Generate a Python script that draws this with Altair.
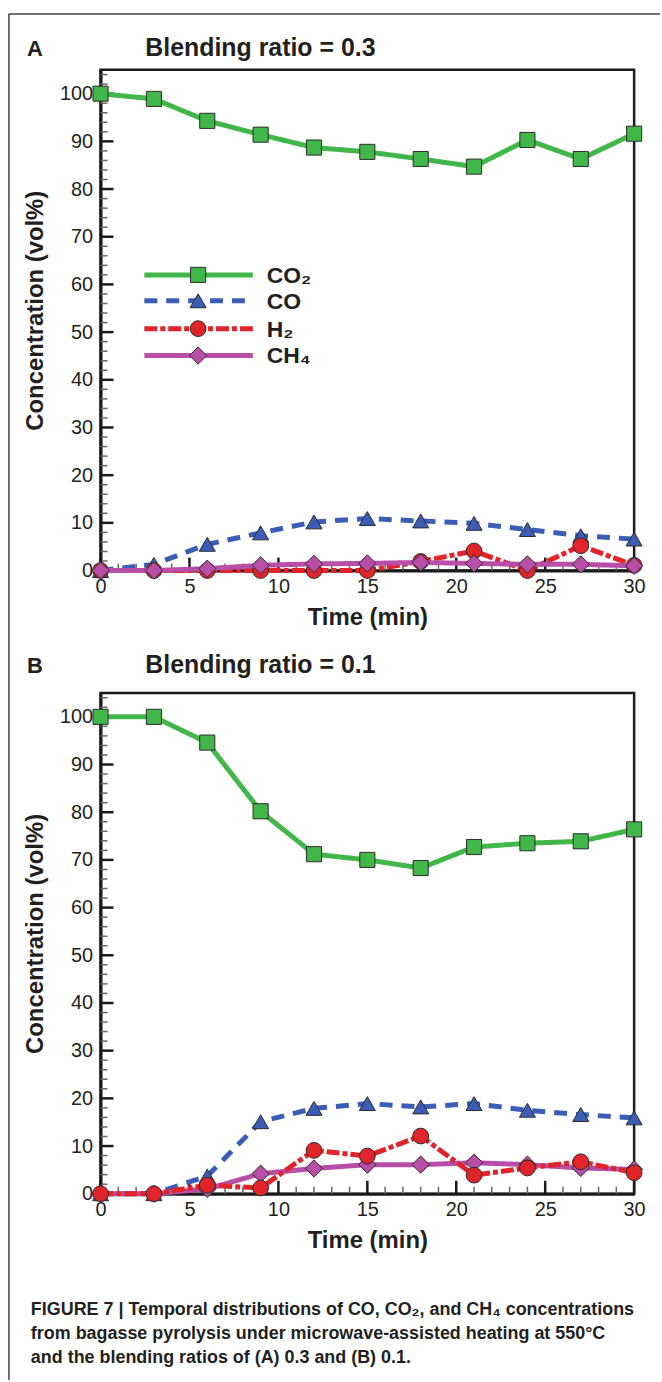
import altair as alt
import pandas as pd

# Sampling times (min)
time = [0, 3, 6, 9, 12, 15, 18, 21, 24, 27, 30]

# Blending ratio = 0.3
a_co2 = [100, 98.9, 94.3, 91.4, 88.7, 87.8, 86.3, 84.7, 90.3, 86.3, 91.6]
a_co = [0, 1.3, 5.5, 7.9, 10.2, 10.9, 10.4, 9.9, 8.6, 7.3, 6.6]
a_h2 = [0, 0, 0, 0, 0, 0, 1.9, 4.1, 0, 5.2, 1.1]
a_ch4 = [0, 0, 0.4, 1.1, 1.4, 1.5, 1.7, 1.5, 1.3, 1.3, 1.0]

# Blending ratio = 0.1
b_co2 = [100, 100, 94.6, 80.2, 71.2, 70.0, 68.3, 72.7, 73.5, 73.9, 76.4]
b_co = [0, 0, 3.7, 15.1, 17.9, 18.9, 18.2, 18.9, 17.5, 16.6, 15.9]
b_h2 = [0, 0, 1.8, 1.2, 9.1, 7.9, 12.1, 3.9, 5.4, 6.7, 4.4]
b_ch4 = [0, 0, 1.0, 4.2, 5.3, 6.1, 6.1, 6.5, 6.1, 5.4, 5.1]

gases = ["CO2", "CO", "H2", "CH4"]
gas_labels = ["CO₂", "CO", "H₂", "CH₄"]

# Axis tick values
x_major = [0, 5, 10, 15, 20, 25, 30]
x_minor = [v for v in range(0, 31) if v % 5 != 0]
y_major = list(range(0, 101, 10))
y_minor = [v for v in range(2, 105, 2) if v % 10 != 0]

caption_lines = [
    "FIGURE 7 | Temporal distributions of CO, CO₂, and CH₄ concentrations",
    "from bagasse pyrolysis under microwave-assisted heating at 550°C",
    "and the blending ratios of (A) 0.3 and (B) 0.1.",
]

STYLE = {
    "CO2": dict(color="#41b649", dash=[1, 0], shape="square", size=230),
    "CO": dict(color="#3b5db5", dash=[13, 9], shape="triangle-up", size=260),
    "H2": dict(color="#e0242a", dash=[13, 3, 5, 3], shape="circle", size=250),
    "CH4": dict(color="#b84ea7", dash=[1, 0], shape="diamond", size=300),
}

FONT = "Liberation Sans"
W, H = 536, 503
X_DOMAIN = [0, 30]
Y_DOMAIN = [0, 105]
MAJOR_LEN, MINOR_LEN = 13, 7

xs = alt.Scale(domain=X_DOMAIN, nice=False, zero=False)
ys = alt.Scale(domain=Y_DOMAIN, nice=False)

x_axis = alt.Axis(
    title="Time (min)", values=x_major, ticks=False, grid=False,
    domainWidth=3, domainColor="#1a1a1a", labelFont=FONT, labelFontSize=20,
    labelColor="#231f20", labelPadding=6, labelFlush=False,
    titleFont=FONT, titleFontSize=24, titleFontWeight="bold",
    titleColor="#231f20", titlePadding=9,
)
y_axis = alt.Axis(
    title="Concentration (vol%)", values=y_major, ticks=False, grid=False,
    domainWidth=3, domainColor="#1a1a1a", labelFont=FONT, labelFontSize=20,
    labelColor="#231f20", labelPadding=8, labelFlush=False,
    titleFont=FONT, titleFontSize=24, titleFontWeight="bold",
    titleColor="#231f20", titleX=-65, titleY=H / 2 - 10, titleBaseline="middle",
)


def X(field):
    return alt.X(f"{field}:Q", scale=xs, axis=x_axis)


def Y(field):
    return alt.Y(f"{field}:Q", scale=ys, axis=y_axis)


one = pd.DataFrame({"k": [0]})

# one pixel expressed in data units of each axis
PX_X = (X_DOMAIN[1] - X_DOMAIN[0]) / W
PX_Y = (Y_DOMAIN[1] - Y_DOMAIN[0]) / H


def tick_frame(values, length, axis):
    # two end points per tick, starting on the axis and pointing into the plot
    rows = []
    for i, v in enumerate(values):
        if axis == "y":
            rows += [(i, 0.0, v), (i, length * PX_X, v)]
        else:
            rows += [(i, v, 0.0), (i, v, length * PX_Y)]
    return pd.DataFrame(rows, columns=["tid", "tx", "ty"])


def tick_layers():
    specs = [
        (y_major, MAJOR_LEN, "y", 2.5, "#1a1a1a"),
        (y_minor, MINOR_LEN, "y", 1.5, "#666666"),
        (x_major, MAJOR_LEN, "x", 2.5, "#1a1a1a"),
        (x_minor, MINOR_LEN, "x", 1.5, "#666666"),
    ]
    return [
        alt.Chart(tick_frame(vals, ln, ax)).mark_line(
            color=col, strokeWidth=w, strokeCap="butt"
        ).encode(x=X("tx"), y=Y("ty"), detail="tid:N")
        for vals, ln, ax, w, col in specs
    ]


def series_layers(values, order):
    out = []
    for g in order:
        st = STYLE[g]
        df = pd.DataFrame({"t": time, "c": values[g]})
        base = alt.Chart(df)
        out.append(
            base.mark_line(color=st["color"], strokeWidth=5, strokeDash=st["dash"],
                           strokeCap="butt").encode(x=X("t"), y=Y("c"))
        )
        out.append(
            base.mark_point(shape=st["shape"], size=st["size"], filled=True,
                            fill=st["color"], stroke="#2b2b2b", strokeWidth=1,
                            opacity=1).encode(x=X("t"), y=Y("c"))
        )
    return out


def text_layer(txt, x, y, size, weight="bold", font=FONT, **kw):
    return alt.Chart(one).mark_text(
        text=txt, font=font, fontSize=size, fontWeight=weight, color="#231f20",
        align="left", baseline="middle", **kw
    ).encode(x=alt.value(x), y=alt.value(y))


def legend_layers():
    layers = []
    row_y = [206, 232, 260, 287]
    for g, lab, yy in zip(gases, gas_labels, row_y):
        st = STYLE[g]
        layers.append(
            alt.Chart(one).mark_rule(color=st["color"], strokeWidth=5,
                                     strokeDash=st["dash"], strokeCap="butt").encode(
                x=alt.value(44), x2=alt.value(153), y=alt.value(yy)
            )
        )
        layers.append(
            alt.Chart(one).mark_point(shape=st["shape"], size=st["size"], filled=True,
                                      fill=st["color"], stroke="#2b2b2b",
                                      strokeWidth=1, opacity=1).encode(
                x=alt.value(98), y=alt.value(yy)
            )
        )
        layers.append(text_layer(lab, 167, yy + 1, 23))
    return layers


frame = [
    alt.Chart(one).mark_rule(color="#444444", strokeWidth=1.5).encode(
        x=alt.value(-92), y=alt.value(-56), y2=alt.value(1316)
    ),
    alt.Chart(one).mark_rule(color="#444444", strokeWidth=1.5).encode(
        x=alt.value(-92), x2=alt.value(562), y=alt.value(-56)
    ),
]

vals_a = {"CO2": a_co2, "CO": a_co, "H2": a_h2, "CH4": a_ch4}
vals_b = {"CO2": b_co2, "CO": b_co, "H2": b_h2, "CH4": b_ch4}

panel_a = alt.layer(
    *tick_layers(),
    *series_layers(vals_a, ["CO2", "CO", "H2", "CH4"]),
    *frame,
    *legend_layers(),
    text_layer("A", -74, -21, 22),
    text_layer("Blending ratio = 0.3", 45, -22, 25),
).properties(width=W, height=H)

panel_b = alt.layer(
    *tick_layers(),
    *series_layers(vals_b, ["CO2", "CO", "CH4", "H2"]),
    text_layer("B", -74, -27, 22),
    text_layer("Blending ratio = 0.1", 45, -28, 25),
    alt.Chart(one).mark_text(
        text=caption_lines, font="Liberation Sans Narrow, Liberation Sans",
        fontSize=18, fontWeight="bold", color="#231f20", align="left",
        baseline="middle", lineHeight=24,
    ).encode(x=alt.value(-70), y=alt.value(620)),
).properties(width=W, height=H)

chart = (
    alt.vconcat(panel_a, panel_b, spacing=123, bounds="flush")
    .properties(padding={"left": 7, "top": 9, "right": 0, "bottom": 0})
    .configure(background="white")
    .configure_view(stroke="#1a1a1a", strokeWidth=2.5)
)

chart.save("out.html", embed_options={"renderer": "svg", "actions": False})
